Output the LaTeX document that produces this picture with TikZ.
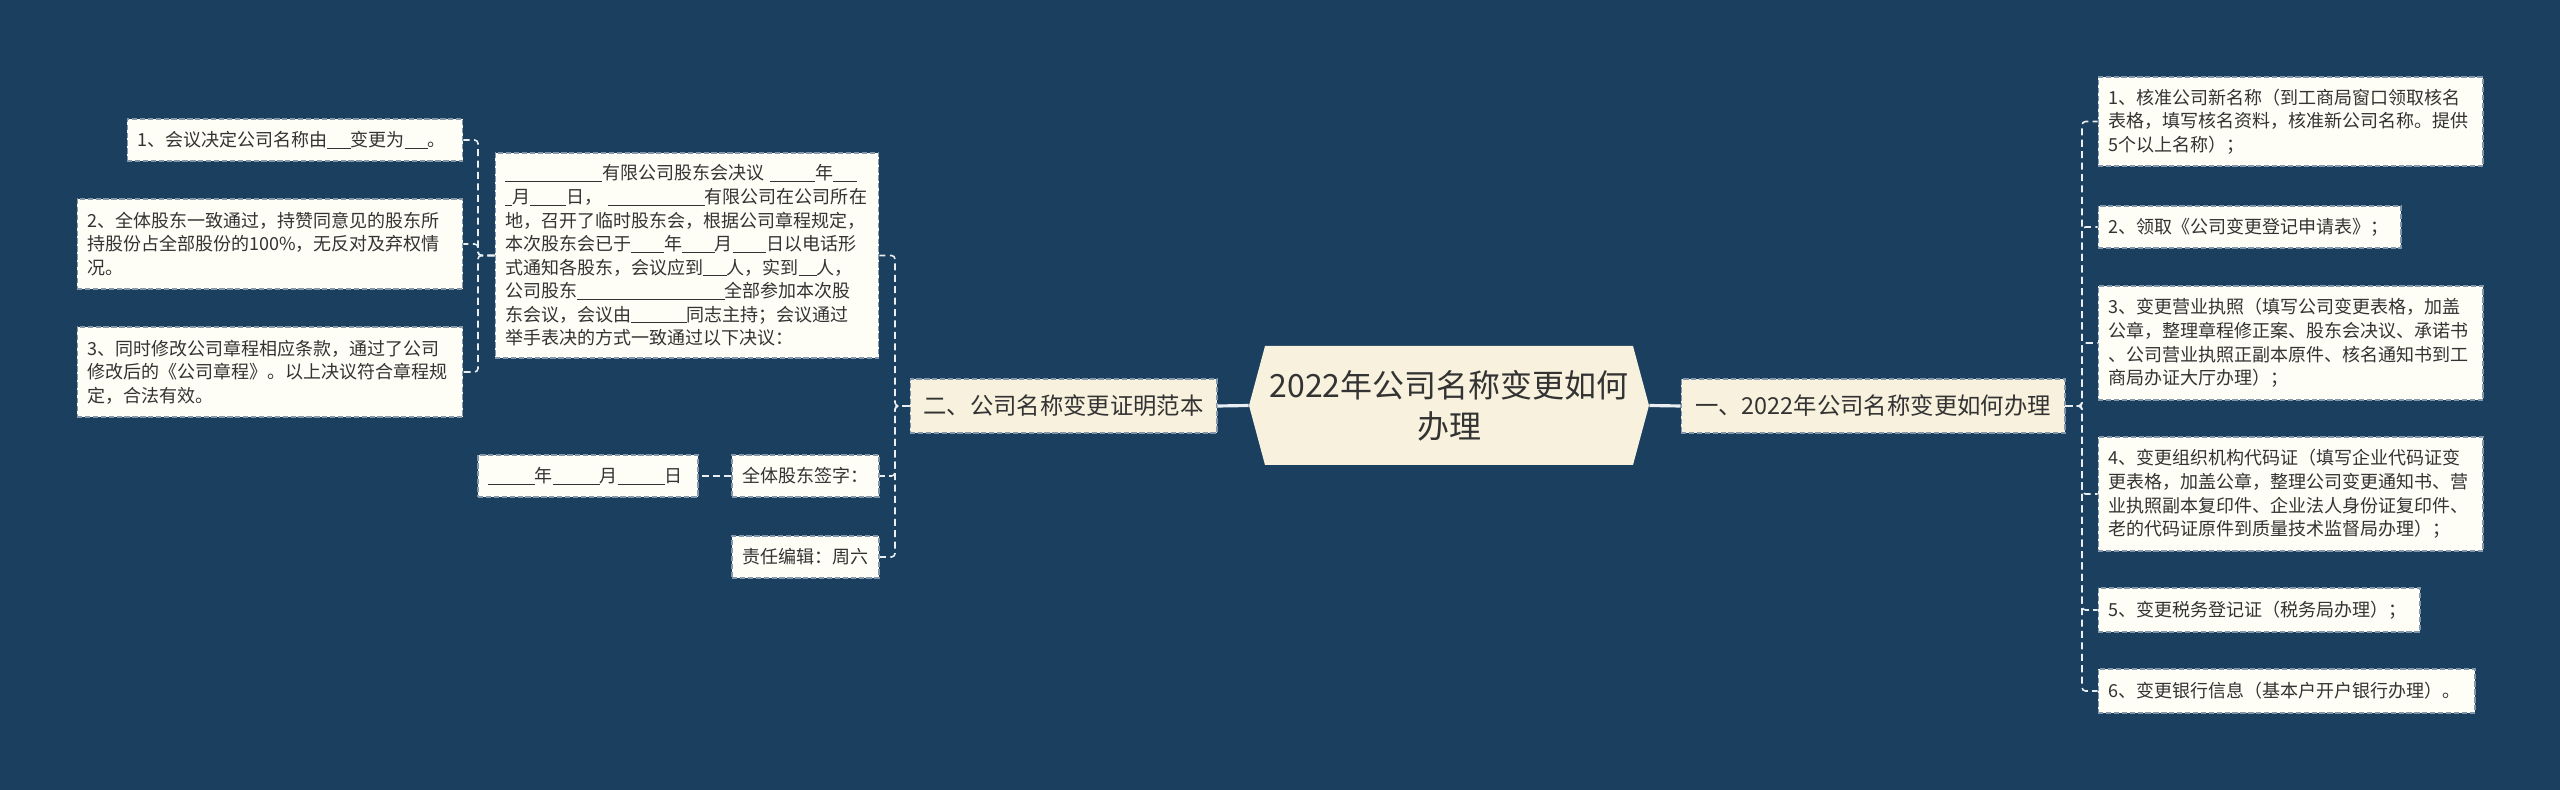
\documentclass[tikz,border=0pt]{standalone}
\usepackage{fontspec}
\newfontfamily\cjk{Noto Sans CJK SC}
\usetikzlibrary{positioning}

\definecolor{navy}{HTML}{1B3F5E}
\definecolor{paper}{HTML}{FEFDF6}
\definecolor{cream}{HTML}{F7F1DD}
\definecolor{ink}{HTML}{333333}
\definecolor{rim}{HTML}{8497AA}
\definecolor{wire}{HTML}{E9EEF3}

% blank to fill in, length in em
\newcommand{\blanks}[1]{\rule[-0.12em]{#1em}{0.06em}}

\begin{document}
\begin{tikzpicture}[
    x=0.02cm, y=-0.02cm,
    every node/.style={text=ink},
    leaf/.style={draw=rim, fill=paper, line width=0.6pt, dash pattern=on 3pt off 1.5pt,
        inner xsep=0.2cm, inner ysep=0pt, align=left,
        font={\cjk\fontsize{10.25}{13.4}\selectfont}},
    branch/.style={draw=rim, fill=cream, line width=0.6pt, dash pattern=on 3pt off 1.5pt,
        minimum height=1.08cm, inner sep=0pt, font={\cjk\fontsize{13.3}{16}\selectfont}},
    twig/.style={draw=wire, line width=0.9pt, dash pattern=on 4pt off 2.5pt, rounded corners=2pt},
    trunk/.style={draw=wire, line width=1.8pt}
]
    \useasboundingbox (0,0) rectangle (2560,790);
    \fill[navy] (0,0) rectangle (2560,790);

    % root: hexagon behind the title
    \fill[cream] (1249,405.5) -- ++(16,-59.5) -- ++(368,0) -- ++(16,59.5)
        -- ++(-16,59.5) -- ++(-368,0) -- cycle;
    \node[align=center, minimum width=8cm, minimum height=2.38cm,
        font={\cjk\fontsize{18.2}{23.4}\selectfont}] (root) at (1449,405.5)
        {2022年公司名称变更如何\\办理};

    % first level
    \node[branch, minimum width=6.14cm] (sample) at (1063.5,406) {二、公司名称变更证明范本};
    \node[branch, minimum width=7.68cm] (howto) at (1873,406) {一、2022年公司名称变更如何办理};

    % left: the resolution form
    \node[leaf, text width=7.28cm, minimum height=4.1cm] (resol) at (687,255.5)
        {\blanks{5.4}有限公司股东会决议 \blanks{2.5}年\blanks{1.3}\\
         \blanks{0.4}月\blanks{2}日，\hspace{0.3em}\blanks{5.4}有限公司在公司所在\\
         地，召开了临时股东会，根据公司章程规定，\\
         本次股东会已于\blanks{1.85}年\blanks{1.8}月\blanks{1.85}日以电话形\\
         式通知各股东，会议应到\blanks{1.3}人，实到\blanks{1}人，\\
         公司股东\blanks{8.2}全部参加本次股\\
         东会议，会议由\blanks{3.1}同志主持；会议通过\\
         举手表决的方式一致通过以下决议：};
    \node[leaf, text width=2.54cm, minimum height=0.84cm] (sign) at (805.5,476) {全体股东签字：};
    \node[leaf, text width=2.54cm, minimum height=0.84cm] (editor) at (805.5,557) {责任编辑：周六};
    \node[leaf, text width=4cm, minimum height=0.84cm] (date) at (588,476)
        {\blanks{2.6}年\blanks{2.6}月\blanks{2.6}日};

    \node[leaf, text width=6.32cm, minimum height=0.84cm] (res1) at (295,140)
        {1、会议决定公司名称由\blanks{1.3}变更为\blanks{1.3}。};
    \node[leaf, text width=7.32cm, minimum height=1.8cm] (res2) at (270,244)
        {2、全体股东一致通过，持赞同意见的股东所\\持股份占全部股份的100\%，无反对及弃权情\\况。};
    \node[leaf, text width=7.32cm, minimum height=1.8cm] (res3) at (270,372)
        {3、同时修改公司章程相应条款，通过了公司\\修改后的《公司章程》。以上决议符合章程规\\定，合法有效。};

    % right: the steps
    \node[leaf, text width=7.3cm, minimum height=1.78cm] (step1) at (2290.5,121.5)
        {1、核准公司新名称（到工商局窗口领取核名\\表格，填写核名资料，核准新公司名称。提供\\5个以上名称）；};
    \node[leaf, text width=5.66cm, minimum height=0.84cm] (step2) at (2249.5,227)
        {2、领取《公司变更登记申请表》；};
    \node[leaf, text width=7.3cm, minimum height=2.28cm] (step3) at (2290.5,343)
        {3、变更营业执照（填写公司变更表格，加盖\\公章，整理章程修正案、股东会决议、承诺书\\、公司营业执照正副本原件、核名通知书到工\\商局办证大厅办理）；};
    \node[leaf, text width=7.3cm, minimum height=2.28cm] (step4) at (2290.5,494)
        {4、变更组织机构代码证（填写企业代码证变\\更表格，加盖公章，整理公司变更通知书、营\\业执照副本复印件、企业法人身份证复印件、\\老的代码证原件到质量技术监督局办理）；};
    \node[leaf, text width=6.04cm, minimum height=0.88cm] (step5) at (2259,610)
        {5、变更税务登记证（税务局办理）；};
    \node[leaf, text width=7.14cm, minimum height=0.88cm] (step6) at (2286.5,691)
        {6、变更银行信息（基本户开户银行办理）。};

    % brackets
    \coordinate (lbr) at (895,406);
    \coordinate (gbr) at (478,255.5);
    \coordinate (rbr) at (2082,406);

    \draw[trunk] (root.west) -- (sample.east);
    \draw[trunk] (root.east) -- (howto.west);

    \foreach \kid in {resol, sign, editor}
        \draw[twig] (sample.west) -- (lbr) |- (\kid.east);
    \foreach \kid in {res1, res2, res3}
        \draw[twig] (resol.west) -- (gbr) |- (\kid.east);
    \draw[twig] (sign.west) -- (date.east);
    \foreach \kid in {step1, step2, step3, step4, step5, step6}
        \draw[twig] (howto.east) -- (rbr) |- (\kid.west);
\end{tikzpicture}
\end{document}
